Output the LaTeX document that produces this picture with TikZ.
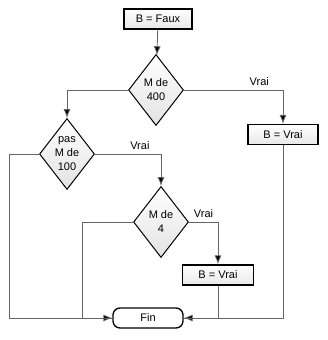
\documentclass[tikz,border=0pt]{standalone}
\usepackage{fontspec}
\setmainfont{Liberation Sans}
\usetikzlibrary{shapes.geometric,positioning,arrows.meta}

\tikzset{
  boite/.style={draw, line width=1.3pt, top color=white, bottom color=gray!18, minimum width=68pt, minimum height=20pt, inner sep=0pt},
  choix/.style={draw, line width=1pt, diamond, top color=white, bottom color=gray!22, align=center, inner sep=0pt, minimum width=55pt, minimum height=71pt, aspect=0.77},
  fin/.style={draw, line width=1.3pt, fill=white, rounded corners=7pt, minimum width=70pt, minimum height=20pt, inner sep=0pt},
  fil/.style={draw=gray!80!black, line width=0.8pt},
  fleche/.style={fil, -{Latex[length=9pt, width=7pt, fill=black]}}
}

\begin{document}
\begin{tikzpicture}[x=1pt, y=-1pt, font=\fontsize{11}{14}\selectfont]
  \useasboundingbox (0,0) rectangle (328,340);

  % Noeuds
  \node[boite] (faux) at (158,19) {B = Faux};
  \node[choix] (m400) at (156,90) {M de\\400};
  \node[choix] (pas100) at (67,154) {pas\\M de\\100};
  \node[choix] (m4) at (161,222) {M de\\4};
  \node[boite, minimum width=70pt] (vrai1) at (283,134.5) {B = Vrai};
  \node[boite, minimum width=71pt] (vrai2) at (218,275) {B = Vrai};
  \node[fin] (fin) at (148,318) {Fin};

  % Liaisons
  \draw[fleche] (faux) -- (m400);
  \draw[fleche] (m400.west) -| (pas100.north);
  \draw[fleche] (m400.east) -| node[pos=0.38, above=1pt] {Vrai} (vrai1.north);
  \draw[fleche] (pas100.east) -| node[pos=0.34, above=1pt] {Vrai} (m4.north);
  \draw[fleche] (m4.east) -| node[pos=0.25, above=1pt] {Vrai} (vrai2.north);

  % Vers la fin
  \draw[fleche] (pas100.west) -- ++(-30,0) |- (fin.west);
  \draw[fil] (m4.west) -- ++(-51,0) |- (fin.west);
  \draw[fleche] (vrai2.south) |- (fin.east);
  \draw[fil] (vrai1.south) |- (fin.east);
\end{tikzpicture}
\end{document}
